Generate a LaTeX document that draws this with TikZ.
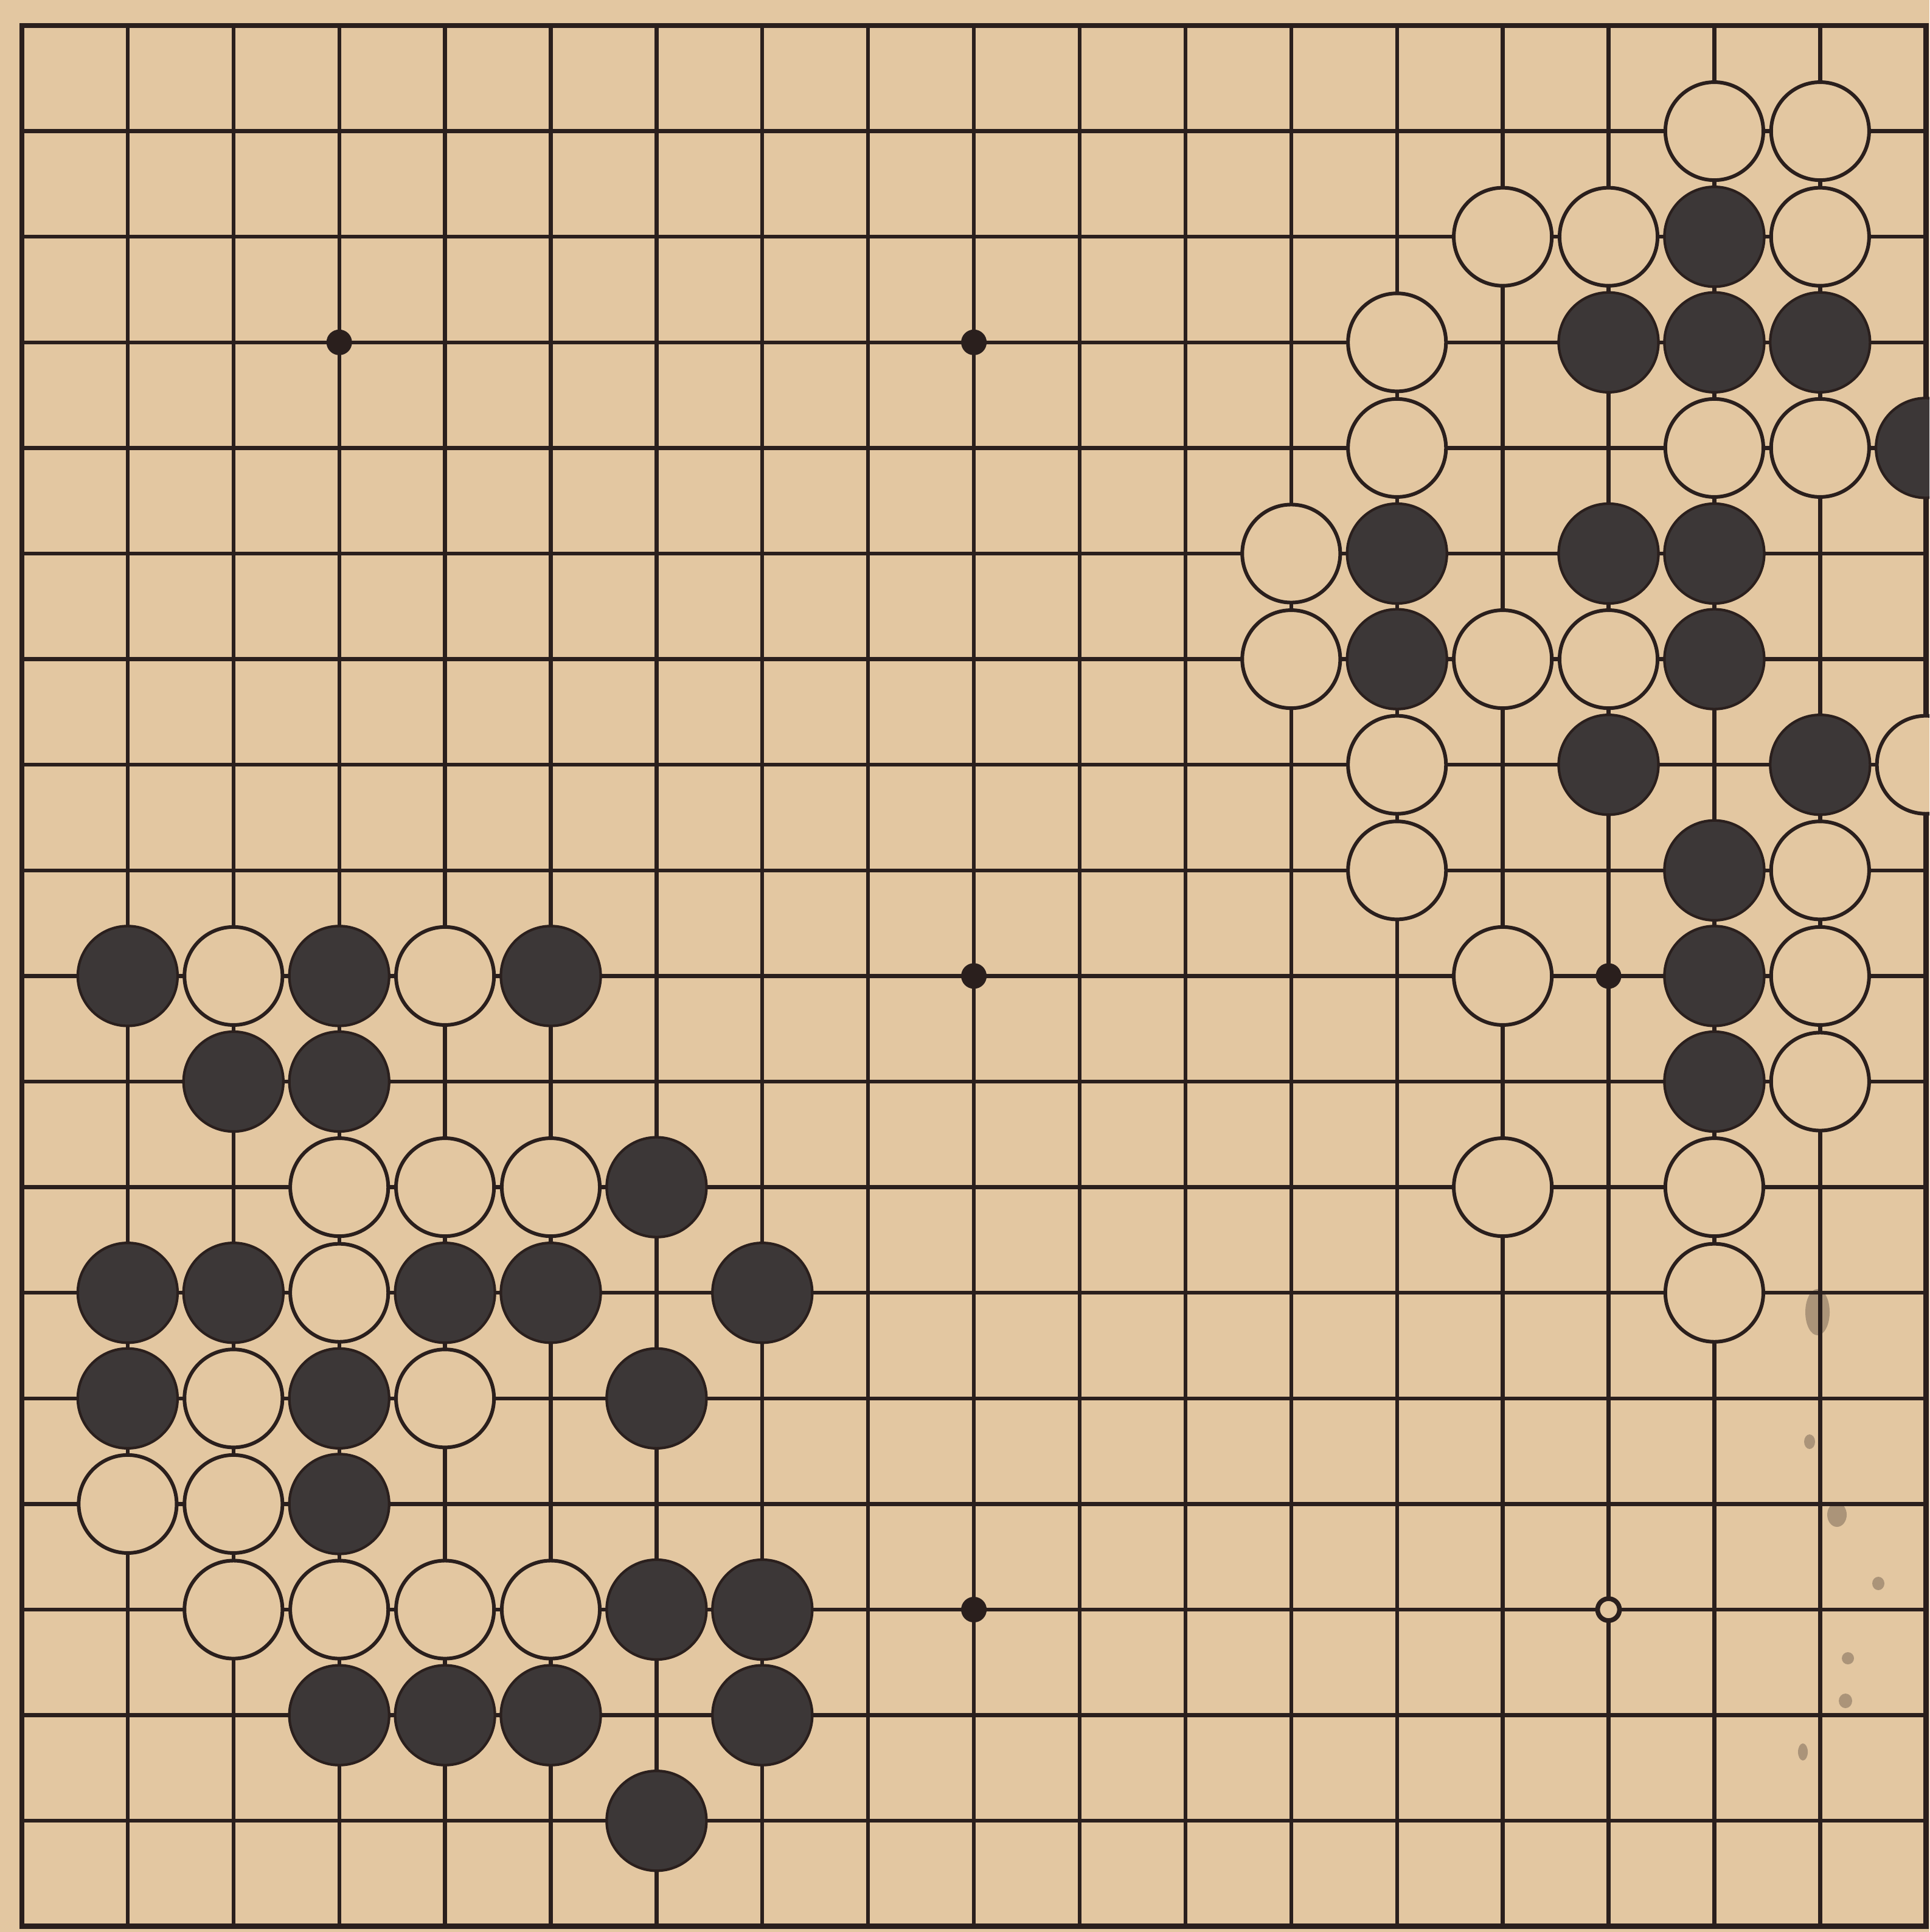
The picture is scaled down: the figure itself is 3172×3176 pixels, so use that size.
\documentclass[tikz,border=0pt]{standalone}
\definecolor{paper}{RGB}{227,199,161}
\definecolor{ink}{RGB}{42,31,29}
\definecolor{stoneblack}{RGB}{60,55,55}
\tikzset{
  gridline/.style={draw=ink, line width=1.8pt},
  edgeline/.style={draw=ink, line width=2.5pt},
  bstone/.style={circle, draw=ink, fill=stoneblack, line width=1.2pt, minimum size=1.64cm, inner sep=0pt},
  wstone/.style={circle, draw=ink, fill=paper, line width=1.7pt, minimum size=1.61cm, inner sep=0pt},
  hoshi/.style={circle, fill=ink, minimum size=0.42cm, inner sep=0pt},
  hoshiring/.style={circle, draw=ink, fill=paper, line width=2.2pt, minimum size=0.36cm, inner sep=0pt},
  stain/.style={fill=ink, opacity=0.3}
}
\begin{document}
\begin{tikzpicture}[x=0.01cm, y=-0.01cm]
  \useasboundingbox (0,0) rectangle (3172,3176);
  \fill[paper] (0,0) rectangle (3172,3176);
  \clip (0,0) rectangle (3172,3176);
  % grid
  \foreach \i in {1,...,17} {
    \draw[gridline] ({36+173.9*\i},42) -- ({36+173.9*\i},{42+173.6*18});
    \draw[gridline] (36,{42+173.6*\i}) -- ({36+173.9*18},{42+173.6*\i});
  }
  \draw[edgeline] (36,42) rectangle ({36+173.9*18},{42+173.6*18});
  % star points
  \foreach \c/\r in {3/3,9/3,9/9,15/9,9/15}
    \node[hoshi] (h-\c-\r) at ({36+173.9*\c},{42+173.6*\r}) {};
  \node[hoshiring] (h-15-15) at ({36+173.9*15},{42+173.6*15}) {};
  % stains
  \fill[stain] (2988,2157) ellipse [x radius=20, y radius=38];
  \fill[stain] (2975,2370) ellipse [x radius=9, y radius=12];
  \fill[stain] (3020,2490) ellipse [x radius=16, y radius=20];
  \fill[stain] (3088,2603) ellipse [x radius=10, y radius=11];
  \fill[stain] (3038,2726) ellipse [x radius=10, y radius=10];
  \fill[stain] (3034,2796) ellipse [x radius=11, y radius=12];
  \fill[stain] (2964,2880) ellipse [x radius=8, y radius=14];
  % black stones
  \foreach \c/\r in {16/2,15/3,16/3,17/3,18/4,13/5,15/5,16/5,13/6,16/6,15/7,17/7,16/8,16/9,16/10,
                     1/9,3/9,5/9,2/10,3/10,6/11,1/12,2/12,4/12,5/12,7/12,1/13,3/13,6/13,3/14,
                     6/15,7/15,3/16,4/16,5/16,7/16,6/17}
    \node[bstone] (b-\c-\r) at ({36+173.9*\c},{42+173.6*\r}) {};
  % white stones
  \foreach \c/\r in {16/1,17/1,14/2,15/2,17/2,13/3,13/4,16/4,17/4,12/5,12/6,14/6,15/6,13/7,18/7,
                     13/8,17/8,14/9,17/9,17/10,14/11,16/11,16/12,
                     2/9,4/9,3/11,4/11,5/11,3/12,2/13,4/13,1/14,2/14,2/15,3/15,4/15,5/15}
    \node[wstone] (w-\c-\r) at ({36+173.9*\c},{42+173.6*\r}) {};
\end{tikzpicture}
\end{document}
